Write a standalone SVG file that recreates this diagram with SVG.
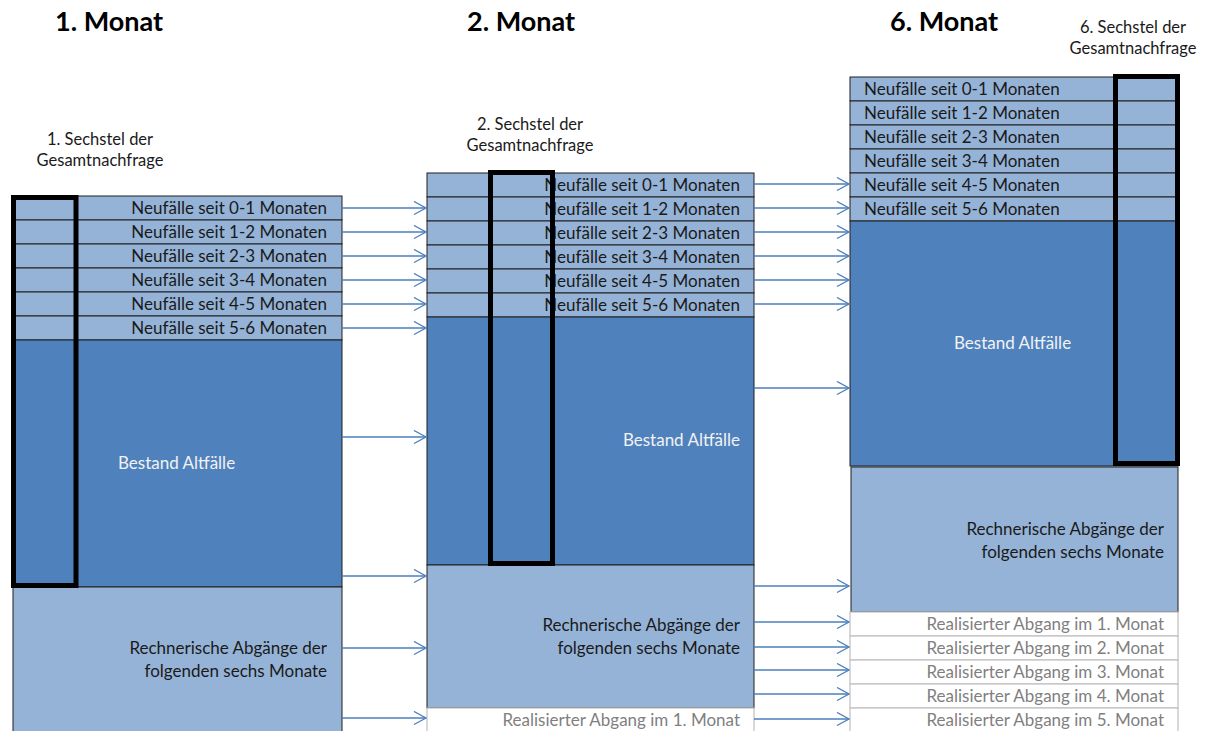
<svg xmlns="http://www.w3.org/2000/svg" width="1205" height="731" viewBox="0 0 1205 731">
<style>
.nf{fill:#95b3d7;stroke:#1f1f1f;stroke-width:1}
.alt{fill:#4f81bd;stroke:#1f1f1f;stroke-width:1}
.re{fill:#95b3d7;stroke:#1f1f1f;stroke-width:1}
.rz{fill:#ffffff;stroke:#bfbfbf;stroke-width:1.2}
.thick{fill:none;stroke:#000;stroke-width:5}
text{font-family:Lato,"Liberation Sans",sans-serif;font-size:17px;fill:#1a1a1a}
.r{text-anchor:end}
.w{fill:#f2f2f2}
.g{fill:#7f7f7f}
.h{font-size:27px;font-weight:bold;fill:#000}
.c{text-anchor:middle;font-size:16.5px}
.arr line{stroke:#4a7ebb;stroke-width:1.3;marker-end:url(#ah)}
</style>
<defs>
<marker id="ah" markerUnits="userSpaceOnUse" markerWidth="16" markerHeight="16" refX="13" refY="7" orient="auto">
<path d="M1,0.5 L13,7 L1,13.5" fill="none" stroke="#4a7ebb" stroke-width="1.3"/>
</marker>
</defs>

<g id="headings">
<text class="h" x="55" y="31">1. Monat</text>
<text class="h" x="467" y="31">2. Monat</text>
<text class="h" x="890" y="31">6. Monat</text>
</g>

<g id="col1">
<rect class="nf" x="13" y="196" width="329" height="24"/>
<rect class="nf" x="13" y="220" width="329" height="24"/>
<rect class="nf" x="13" y="244" width="329" height="24"/>
<rect class="nf" x="13" y="268" width="329" height="24"/>
<rect class="nf" x="13" y="292" width="329" height="24"/>
<rect class="nf" x="13" y="316" width="329" height="24"/>
<rect class="alt" x="13" y="340" width="329" height="247"/>
<rect class="re" x="13" y="587" width="329" height="150"/>
<text class="r" x="327" y="214">Neufälle seit 0-1 Monaten</text>
<text class="r" x="327" y="238">Neufälle seit 1-2 Monaten</text>
<text class="r" x="327" y="262">Neufälle seit 2-3 Monaten</text>
<text class="r" x="327" y="286">Neufälle seit 3-4 Monaten</text>
<text class="r" x="327" y="310">Neufälle seit 4-5 Monaten</text>
<text class="r" x="327" y="334">Neufälle seit 5-6 Monaten</text>
<text class="w" x="118" y="469">Bestand Altfälle</text>
<text class="r" x="327" y="654">Rechnerische Abgänge der</text>
<text class="r" x="327" y="677">folgenden sechs Monate</text>
<rect class="thick" x="13.5" y="197.5" width="62.5" height="388"/>
<text class="c" x="100" y="145">1. Sechstel der</text>
<text class="c" x="100" y="166">Gesamtnachfrage</text>
</g>

<g id="col2">
<rect class="nf" x="427" y="173" width="327" height="24"/>
<rect class="nf" x="427" y="197" width="327" height="24"/>
<rect class="nf" x="427" y="221" width="327" height="24"/>
<rect class="nf" x="427" y="245" width="327" height="24"/>
<rect class="nf" x="427" y="269" width="327" height="24"/>
<rect class="nf" x="427" y="293" width="327" height="24"/>
<rect class="alt" x="427" y="317" width="327" height="248"/>
<rect class="re" x="427" y="565" width="327" height="143"/>
<rect class="rz" x="427" y="708" width="327" height="30"/>
<text class="r" x="740" y="191">Neufälle seit 0-1 Monaten</text>
<text class="r" x="740" y="215">Neufälle seit 1-2 Monaten</text>
<text class="r" x="740" y="239">Neufälle seit 2-3 Monaten</text>
<text class="r" x="740" y="263">Neufälle seit 3-4 Monaten</text>
<text class="r" x="740" y="287">Neufälle seit 4-5 Monaten</text>
<text class="r" x="740" y="311">Neufälle seit 5-6 Monaten</text>
<text class="w r" x="740" y="446">Bestand Altfälle</text>
<text class="r" x="740" y="631">Rechnerische Abgänge der</text>
<text class="r" x="740" y="654">folgenden sechs Monate</text>
<text class="g r" x="740" y="726">Realisierter Abgang im 1. Monat</text>
<rect class="thick" x="490.5" y="172.5" width="62" height="391"/>
<text class="c" x="530" y="130">2. Sechstel der</text>
<text class="c" x="530" y="151">Gesamtnachfrage</text>
</g>

<g id="col3">
<rect class="nf" x="850" y="77" width="328" height="24"/>
<rect class="nf" x="850" y="101" width="328" height="24"/>
<rect class="nf" x="850" y="125" width="328" height="24"/>
<rect class="nf" x="850" y="149" width="328" height="24"/>
<rect class="nf" x="850" y="173" width="328" height="24"/>
<rect class="nf" x="850" y="197" width="328" height="24"/>
<rect class="alt" x="850" y="221" width="328" height="245"/>
<rect class="re" x="851" y="467" width="327" height="145"/>
<rect class="rz" x="850" y="612" width="328" height="24"/>
<rect class="rz" x="850" y="636" width="328" height="24"/>
<rect class="rz" x="850" y="660" width="328" height="24"/>
<rect class="rz" x="850" y="684" width="328" height="24"/>
<rect class="rz" x="850" y="708" width="328" height="30"/>
<text x="864" y="95">Neufälle seit 0-1 Monaten</text>
<text x="864" y="119">Neufälle seit 1-2 Monaten</text>
<text x="864" y="143">Neufälle seit 2-3 Monaten</text>
<text x="864" y="167">Neufälle seit 3-4 Monaten</text>
<text x="864" y="191">Neufälle seit 4-5 Monaten</text>
<text x="864" y="215">Neufälle seit 5-6 Monaten</text>
<text class="w" x="954" y="349">Bestand Altfälle</text>
<text class="r" x="1164" y="535">Rechnerische Abgänge der</text>
<text class="r" x="1164" y="558">folgenden sechs Monate</text>
<text class="g r" x="1164" y="630">Realisierter Abgang im 1. Monat</text>
<text class="g r" x="1164" y="654">Realisierter Abgang im 2. Monat</text>
<text class="g r" x="1164" y="678">Realisierter Abgang im 3. Monat</text>
<text class="g r" x="1164" y="702">Realisierter Abgang im 4. Monat</text>
<text class="g r" x="1164" y="726">Realisierter Abgang im 5. Monat</text>
<rect class="thick" x="1115.5" y="76.5" width="62" height="387"/>
<text class="c" x="1133" y="33">6. Sechstel der</text>
<text class="c" x="1133" y="54">Gesamtnachfrage</text>
</g>

<g id="connectors" class="arr">
<line x1="342" y1="208" x2="426" y2="208"/>
<line x1="342" y1="232" x2="426" y2="232"/>
<line x1="342" y1="256" x2="426" y2="256"/>
<line x1="342" y1="280" x2="426" y2="280"/>
<line x1="342" y1="304" x2="426" y2="304"/>
<line x1="342" y1="328" x2="426" y2="328"/>
<line x1="342" y1="437" x2="426" y2="437"/>
<line x1="342" y1="576" x2="426" y2="576"/>
<line x1="342" y1="648" x2="426" y2="648"/>
<line x1="342" y1="718" x2="426" y2="718"/>
<line x1="754" y1="184" x2="849" y2="184"/>
<line x1="754" y1="208" x2="849" y2="208"/>
<line x1="754" y1="232" x2="849" y2="232"/>
<line x1="754" y1="256" x2="849" y2="256"/>
<line x1="754" y1="280" x2="849" y2="280"/>
<line x1="754" y1="304" x2="849" y2="304"/>
<line x1="754" y1="388" x2="849" y2="388"/>
<line x1="754" y1="586" x2="849" y2="586"/>
<line x1="754" y1="622" x2="849" y2="622"/>
<line x1="754" y1="647" x2="849" y2="647"/>
<line x1="754" y1="670" x2="849" y2="670"/>
<line x1="754" y1="694" x2="849" y2="694"/>
<line x1="754" y1="719" x2="849" y2="719"/>
</g>
</svg>
